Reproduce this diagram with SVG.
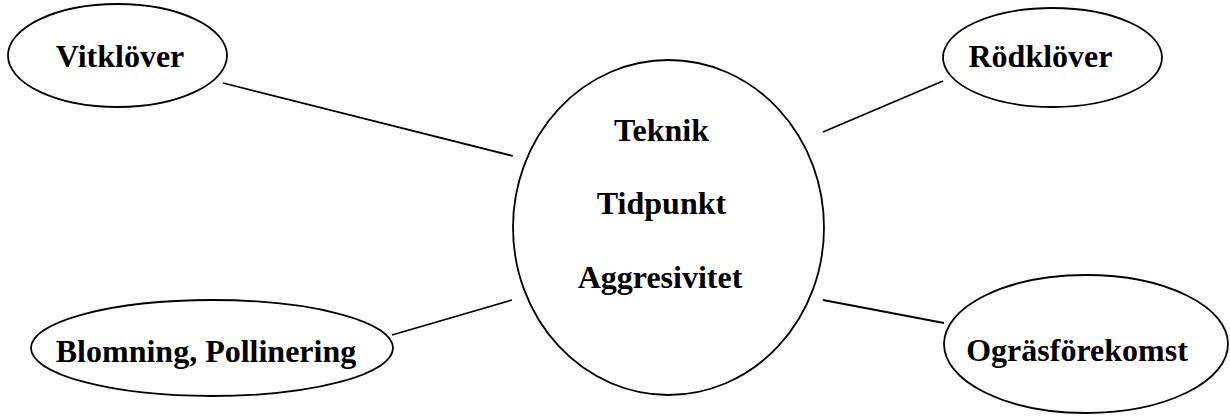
<svg xmlns="http://www.w3.org/2000/svg" width="1230" height="419" viewBox="0 0 1230 419">
<style>
.n{fill:#fff;stroke:#000;stroke-width:1.8}
.c line{stroke:#000;stroke-width:1.8}
text{font-family:"Liberation Serif","Times New Roman",serif;font-weight:bold;font-size:32px;fill:#000;text-anchor:middle}
</style>
<rect width="1230" height="419" fill="#fff"/>
<g id="connectors" class="c">
<line x1="223" y1="83" x2="513" y2="156"/>
<line x1="823" y1="132" x2="943" y2="81"/>
<line x1="392" y1="335" x2="512" y2="300"/>
<line x1="823" y1="300" x2="944" y2="323"/>
</g>
<g id="center">
<ellipse class="n" cx="668.5" cy="227.5" rx="155.5" ry="167.5"/>
<text x="661.5" y="141">Teknik</text>
<text x="661.5" y="214">Tidpunkt</text>
<text x="660" y="288">Aggresivitet</text>
</g>
<g id="vitklover">
<ellipse class="n" cx="117.5" cy="55.5" rx="109.5" ry="51.5"/>
<text x="120" y="67">Vitklöver</text>
</g>
<g id="rodklover">
<ellipse class="n" cx="1052.5" cy="57.5" rx="109.5" ry="49.5"/>
<text x="1040.5" y="67">Rödklöver</text>
</g>
<g id="blomning">
<ellipse class="n" cx="212" cy="348" rx="181" ry="48"/>
<text x="206" y="362">Blomning, Pollinering</text>
</g>
<g id="ograsforekomst">
<ellipse class="n" cx="1086" cy="344" rx="142" ry="69"/>
<text x="1077" y="361">Ogräsförekomst</text>
</g>
</svg>
